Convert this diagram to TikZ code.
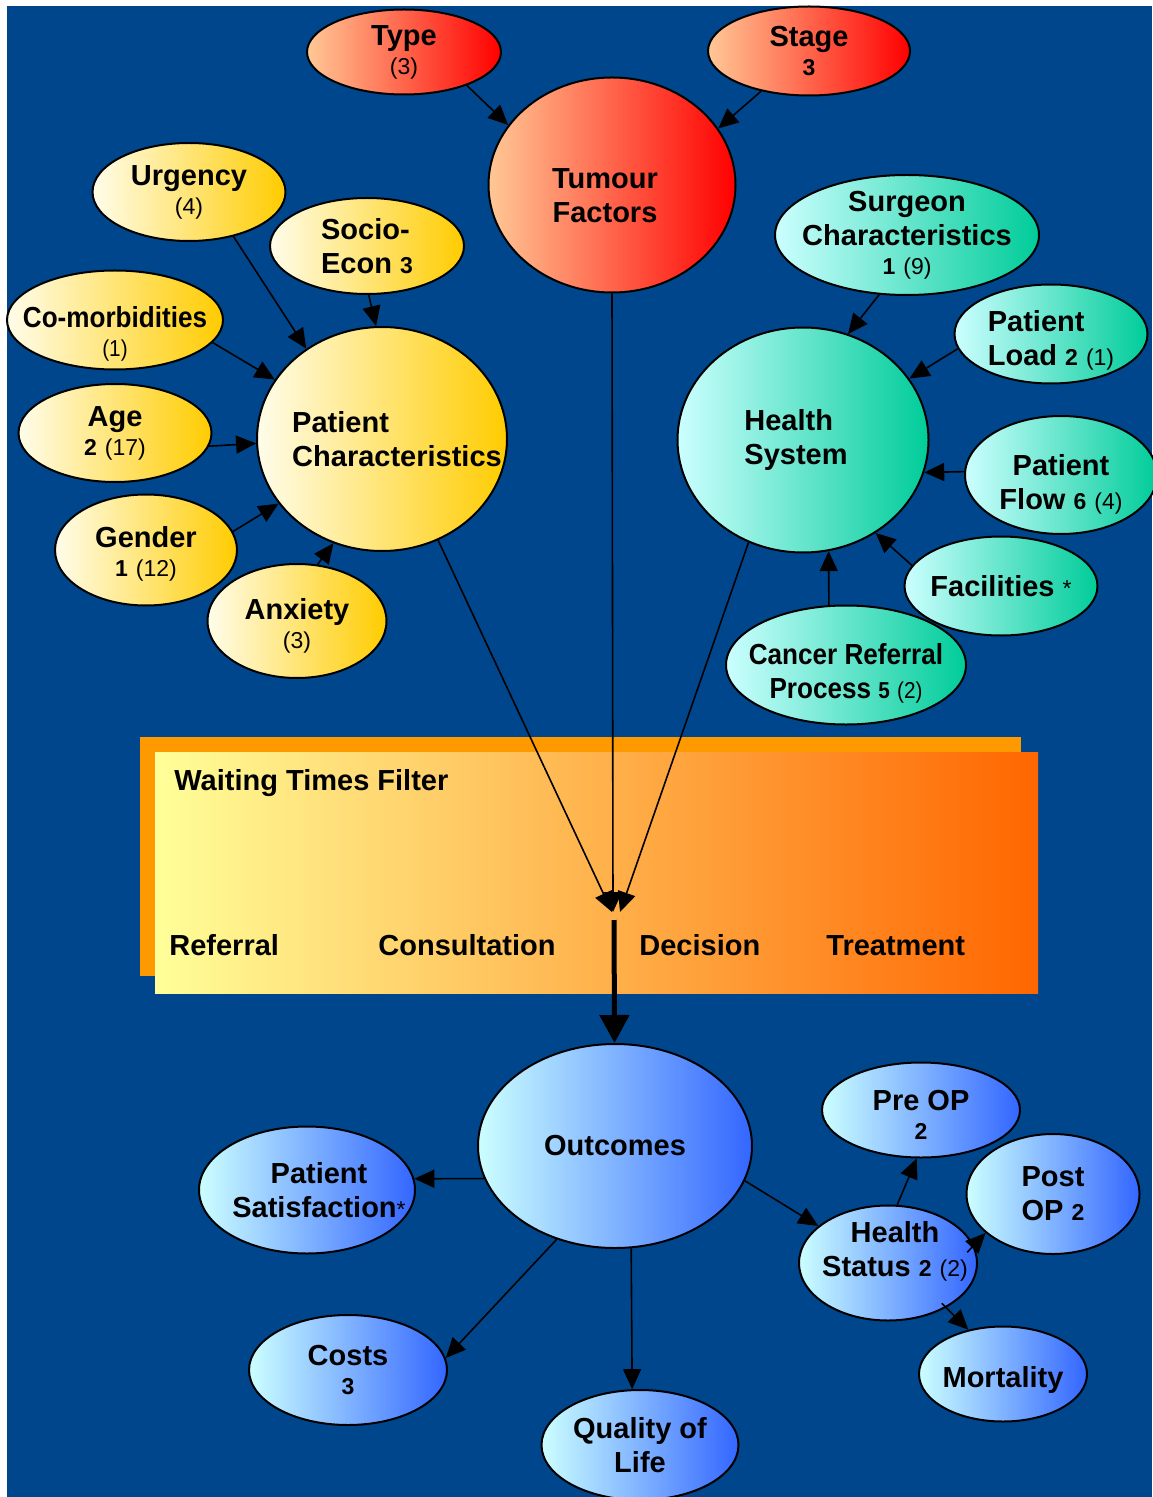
\documentclass[tikz,border=0pt]{standalone}
\usepackage{fontspec}
\setmainfont{Liberation Sans}
\newfontfamily\condfont[FakeStretch=0.9]{Liberation Sans}
\usetikzlibrary{shapes.geometric,arrows.meta}

\definecolor{bgblue}{RGB}{0,70,140}
\definecolor{tumL}{RGB}{255,200,150}
\definecolor{tumR}{RGB}{255,0,0}
\definecolor{patL}{RGB}{255,253,235}
\definecolor{patR}{RGB}{255,204,0}
\definecolor{sysL}{RGB}{204,255,255}
\definecolor{sysR}{RGB}{0,204,153}
\definecolor{outL}{RGB}{204,255,255}
\definecolor{outR}{RGB}{51,102,255}
\definecolor{filtL}{RGB}{255,255,153}
\definecolor{filtR}{RGB}{255,102,0}
\definecolor{filtBack}{RGB}{255,153,0}

\newcommand{\nb}[1]{{\fontsize{11.5}{14}\selectfont #1}}
\newcommand{\nc}[1]{{\fontsize{11.5}{14}\selectfont\mdseries #1}}
% struts that push the text of a bubble down or up
\newcommand{\dn}[1]{\rule{0pt}{\dimexpr10.6pt+#1*2\relax}}
\newcommand{\up}[1]{\rule[\dimexpr-3pt-#1*2\relax]{0pt}{0pt}}

\begin{document}
\begin{tikzpicture}[x=0.5pt,y=-0.5pt,>={Triangle[length=10pt,width=9pt]},
    bubble/.style={ellipse,draw,line width=1pt,inner sep=-40pt,align=center,font=\fontsize{14.5}{17}\selectfont\bfseries},
    narrow/.style={font=\fontsize{14.5}{17}\condfont\bfseries},
    sz/.style 2 args={minimum width=#1*0.5pt,minimum height=#2*0.5pt},
    tumour node/.style={bubble,left color=tumL,right color=tumR},
    patient node/.style={bubble,left color=patL,right color=patR},
    system node/.style={bubble,left color=sysL,right color=sysR},
    outcome node/.style={bubble,left color=outL,right color=outR},
    phase label/.style={anchor=base west,inner sep=0pt,font=\fontsize{14.5}{17}\selectfont\bfseries}]

    \useasboundingbox (0,0) rectangle (1152,1497);
    \fill[bgblue] (7,6) rectangle (1152,1497);

    % tumour factors
    \node[tumour node,sz={247}{215}] (tumour) at (612,185) {\dn{5pt}Tumour\hspace*{7pt}\\Factors\hspace*{7pt}};
    \node[tumour node,sz={194}{85}] (type) at (404,52) {Type\\[-2.5pt]\nc{(3)}};
    \node[tumour node,sz={202}{89}] (stage) at (809,51) {Stage\\[-2.5pt]\nb{3}};

    % patient characteristics
    \node[patient node,sz={250}{224},align=left] (patient) at (382,439) {\hspace*{15pt}Patient\\\hspace*{15pt}Characteristics};
    \node[patient node,sz={193}{98}] (urgency) at (189,192) {Urgency\\[-2.5pt]\nc{(4)}};
    \node[patient node,sz={194}{96},align=left] (socio) at (367,246) {Socio-\\Econ \nb{3}};
    \node[patient node,narrow,sz={216}{99}] (comorb) at (115,320) {\dn{7pt}Co-morbidities\\[-2.5pt]\nc{(1)}};
    \node[patient node,sz={193}{98}] (age) at (115,433) {Age\\[-2.5pt]\nb{2} \nc{(17)}};
    \node[patient node,sz={182}{111}] (gender) at (146,550) {\dn{2pt}Gender\\[-2.5pt]\nb{1} \nc{(12)}};
    \node[patient node,sz={179}{114}] (anxiety) at (297,621) {\dn{2.5pt}Anxiety\\[-2.5pt]\nc{(3)}};

    % health system
    \node[system node,sz={251}{225},align=left] (system) at (803,440) {Health\hspace*{7pt}\\System\hspace*{7pt}};
    \node[system node,sz={264}{120}] (surgeon) at (907,235) {Surgeon\\Characteristics\\[-2.5pt]\nb{1} \nc{(9)}};
    \node[system node,sz={193}{99},align=left] (load) at (1051,334) {\dn{3pt}Patient\\Load \nb{2} \nc{(1)}};
    \node[system node,sz={192}{118}] (flow) at (1061,475) {\dn{4.5pt}Patient\\Flow \nb{6} \nc{(4)}};
    \node[system node,sz={193}{99}] (facil) at (1001,586) {Facilities \nc{*}};
    \node[system node,narrow,sz={240}{119}] (referral) at (846,665) {\dn{4pt}Cancer Referral\\Process \nb{5} \nc{(2)}};

    % waiting times filter
    \fill[filtBack] (140,737) rectangle (1021,976);
    \node[rectangle,left color=filtL,right color=filtR,inner sep=0pt,sz={883}{241}] (filter) at (596.5,872.5) {};
    \node[phase label] (wtf) at (174,790) {Waiting Times Filter};
    \node[phase label] (referral stage) at (169,955) {Referral};
    \node[phase label] (consult stage) at (378,955) {Consultation};
    \node[phase label] (decision stage) at (639,955) {Decision};
    \node[phase label] (treat stage) at (826,955) {Treatment};
    \coordinate (mergeL) at (612,912);
    \coordinate (mergeM) at (613,912);
    \coordinate (mergeR) at (620,912);
    \coordinate (drop) at (614,920);

    % outcomes
    \node[outcome node,sz={274}{204}] (outcomes) at (615,1146) {Outcomes};
    \node[outcome node,sz={216}{127}] (satisf) at (307,1190) {\hspace*{12pt}Patient\\\hspace*{12pt}Satisfaction\nc{*}};
    \node[outcome node,sz={198}{95}] (preop) at (921,1110) {\dn{2pt}Pre OP\\[-2.5pt]\nb{2}};
    \node[outcome node,sz={173}{120}] (postop) at (1053,1194) {Post\\OP \nb{2}};
    \node[outcome node,sz={178}{115}] (status) at (888,1263) {\hspace*{7pt}Health\\\hspace*{7pt}Status \nb{2} \nc{(2)}\up{5.5pt}};
    \node[outcome node,sz={198}{110}] (costs) at (348,1370) {Costs\\[-2.5pt]\nb{3}};
    \node[outcome node,sz={197}{110}] (quality) at (640,1445) {Quality of\\Life};
    \node[outcome node,sz={168}{95}] (mortal) at (1003,1374) {\dn{3pt}Mortality};

    \path[->,line width=0.8pt]
        (type.-28) edge (tumour.150)
        (stage.-140) edge (tumour.28)
        (urgency.-45) edge (patient.130)
        (socio.-88) edge (patient.93)
        (comorb.-13) edge (patient.151)
        (age.-8) edge (patient.182)
        (gender.12) edge (patient.-148)
        (anxiety.70) edge (patient.-115)

        (surgeon.-115) edge (system.67)
        (load.-171) edge (system.30)
        (flow.178) edge (system.-15)
        (facil.167) edge (system.-52)
        (referral.106) edge (system.-77)

        (patient.-61) edge (mergeL)
        (tumour.-90) edge (mergeM)
        (system.-118) edge (mergeR)

        (outcomes.-166) edge (satisf.6)
        (outcomes.-15) edge (status.152)
        (outcomes.-122) edge (costs.7)
        (outcomes.-81) edge (quality.98)
        (status.81) edge (preop.-95)
        ([shift={(-7,6)}]status.11) edge (postop.-150)
        ([shift={(-5,-4)}]status.-37) edge (mortal.128);

    \draw[->,line width=2.5pt,>={Triangle[length=14pt,width=14.5pt]}] (drop) -- (outcomes);
\end{tikzpicture}
\end{document}
